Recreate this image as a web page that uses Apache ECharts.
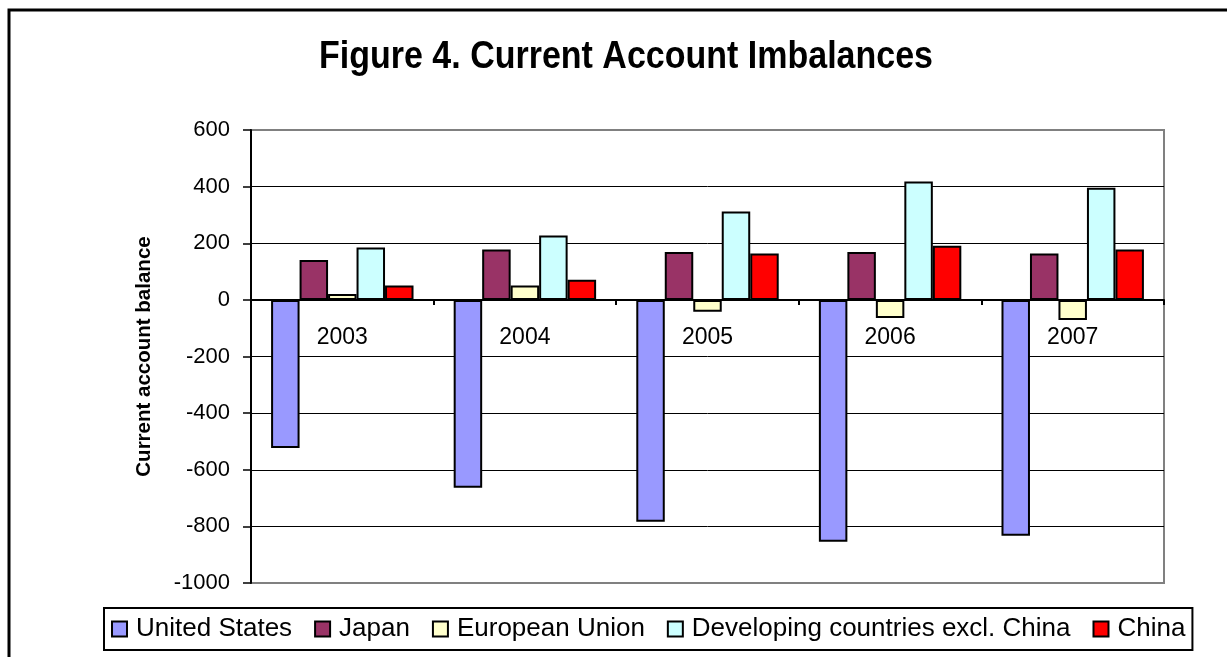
<!DOCTYPE html>
<html>
<head>
<meta charset="utf-8">
<script src="https://cdn.jsdelivr.net/npm/echarts@6/dist/echarts.min.js"></script>
<style>
html,body{margin:0;padding:0;background:#fff;}
#chart{width:1227px;height:657px;}
</style>
</head>
<body>
<div id="chart"></div>
<script>
var years = ['2003', '2004', '2005', '2006', '2007'];
var seriesNames = ['United States', 'Japan', 'European Union', 'Developing countries excl. China', 'China'];
var unitedStates = [-523, -664, -784, -854, -833];
var japan = [141, 178, 169, 169, 164];
var europeanUnion = [21, 51, -42, -64, -71];
var developing = [185, 227, 312, 418, 396];
var china = [51, 71, 164, 191, 178];
var yMin = -1000, yMax = 600, yStep = 200;

var FONT = '"Liberation Sans", Arial, sans-serif';
var colors = ['#9999FF', '#993366', '#FFFFCC', '#CCFFFF', '#FF0000'];
var values = [unitedStates, japan, europeanUnion, developing, china];

var chart = echarts.init(document.getElementById('chart'), null, {renderer: 'canvas'});

var series = values.map(function (v, i) {
  return {
    name: seriesNames[i],
    type: 'bar',
    data: v,
    barGap: '0%',
    barCategoryGap: '22%',
    itemStyle: {color: colors[i], borderColor: '#000', borderWidth: 2},
    emphasis: {disabled: true}
  };
});

var splitColors = [];
for (var t = yMin; t <= yMax; t += yStep) {
  splitColors.push((t === yMin || t === yMax) ? '#808080' : '#000000');
}

chart.setOption({
  animation: false,
  backgroundColor: '#fff',
  color: colors,
  graphic: [
    {type: 'rect', shape: {x: 9, y: 10, width: 1260, height: 700},
     style: {fill: 'none', stroke: '#000', lineWidth: 3}, z: 100, silent: true},
    {type: 'text', x: 626, y: 57, scaleY: 1.12,
     style: {text: 'Figure 4. Current Account Imbalances', font: 'bold 34px ' + FONT,
             fill: '#000', align: 'center', verticalAlign: 'middle'}, z: 100}
  ],
  grid: {left: 251, right: 63, top: 130, bottom: 74, show: true,
         borderColor: '#808080', borderWidth: 2, backgroundColor: '#fff'},
  legend: {
    left: 104, top: 608,
    padding: [8, 7, 8, 7],
    borderColor: '#000', borderWidth: 2,
    itemWidth: 15, itemHeight: 15, itemGap: 22,
    icon: 'rect',
    textStyle: {fontFamily: FONT, fontSize: 26, color: '#000', padding: [0, 0, 0, 4]},
    data: seriesNames
  },
  xAxis: {
    type: 'category',
    data: years,
    axisLine: {onZero: true, lineStyle: {color: '#000', width: 2}},
    axisTick: {show: true, length: 5, lineStyle: {color: '#000', width: 2}},
    axisLabel: {margin: -257, fontFamily: FONT, fontSize: 23, color: '#000'},
    splitLine: {show: false}
  },
  yAxis: {
    type: 'value',
    min: yMin, max: yMax, interval: yStep,
    name: 'Current account balance',
    nameLocation: 'middle',
    nameGap: 96,
    nameTextStyle: {fontFamily: FONT, fontSize: 20.5, fontWeight: 'bold', color: '#000'},
    axisLine: {show: true, lineStyle: {color: '#000', width: 2}},
    axisTick: {show: true, length: 8, lineStyle: {color: '#000', width: 1.5}},
    axisLabel: {margin: 21, fontFamily: FONT, fontSize: 22, color: '#000',
                formatter: function (v) { return String(v); }},
    splitLine: {show: true, lineStyle: {color: splitColors, width: 1}}
  },
  series: series
});
</script>
</body>
</html>
